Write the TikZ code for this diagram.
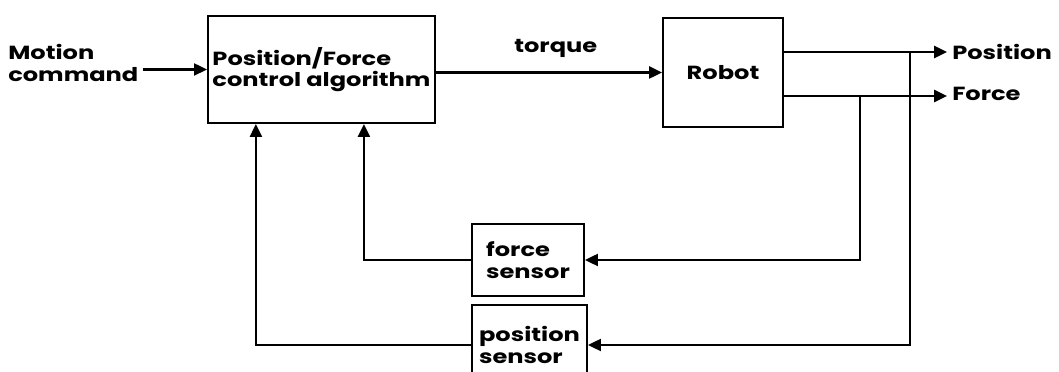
\documentclass[tikz,border=0pt]{standalone}
\usepackage{fontspec}
\setmainfont{Poppins}[FakeStretch=1.27]
\usetikzlibrary{arrows.meta}

\tikzset{
  blk/.style={draw, line width=1.5pt, align=left, inner sep=0pt,
    font=\bfseries\fontsize{13.5}{15.5}\selectfont},
  lbl/.style={align=left, inner sep=0pt,
    font=\bfseries\fontsize{13.5}{15.5}\selectfont},
  sig/.style={line width=1.5pt, -{Triangle[length=0.32cm,width=0.3cm]}}
}

\begin{document}
\begin{tikzpicture}[x=0.025cm,y=-0.025cm]
\useasboundingbox (0,0) rectangle (1059,372);

% blocks
\node[blk, minimum width=5.675cm, minimum height=2.675cm] (ctrl) at (321.5,69.5) {Position/Force\\control algorithm};
\node[blk, minimum width=3cm, minimum height=2.725cm] (robot) at (723,72.5) {Robot};
\node[blk, minimum width=2.8cm, minimum height=1.8cm] (fsens) at (528,260) {force\\sensor};
\node[blk, minimum width=2.875cm, minimum height=2cm] (psens) at (529.5,345) {position\\sensor};

% input
\node[lbl, anchor=west, inner xsep=0.1cm] (cmd) at (4,63) {Motion\\command};
\draw[sig] (ctrl.west -| cmd.east) -- (ctrl.west);

% torque
\draw[sig] (robot.west -| ctrl.east) -- (robot.west)
  node[lbl, pos=0.53, above=0.35cm] (tq) {torque};

% outputs
\coordinate (pout) at (947,52);
\coordinate (fout) at (947,96);
\draw[sig] (pout -| robot.east) -- (pout);
\draw[sig] (fout -| robot.east) -- (fout);
\node[lbl, anchor=base west] (postxt) at (952,60) {Position};
\node[lbl, anchor=base west] (frctxt) at (952,101) {Force};

% feedback
\coordinate (ptap) at (910,52);
\coordinate (ftap) at (860,96);
\draw[sig] (ftap) |- (fsens.east);
\draw[sig] (ptap) |- (psens.east);
\draw[sig] (fsens.west) -| ([xshift=1.06cm]ctrl.south);
\draw[sig] (psens.west) -| ([xshift=-1.64cm]ctrl.south);
\end{tikzpicture}
\end{document}
